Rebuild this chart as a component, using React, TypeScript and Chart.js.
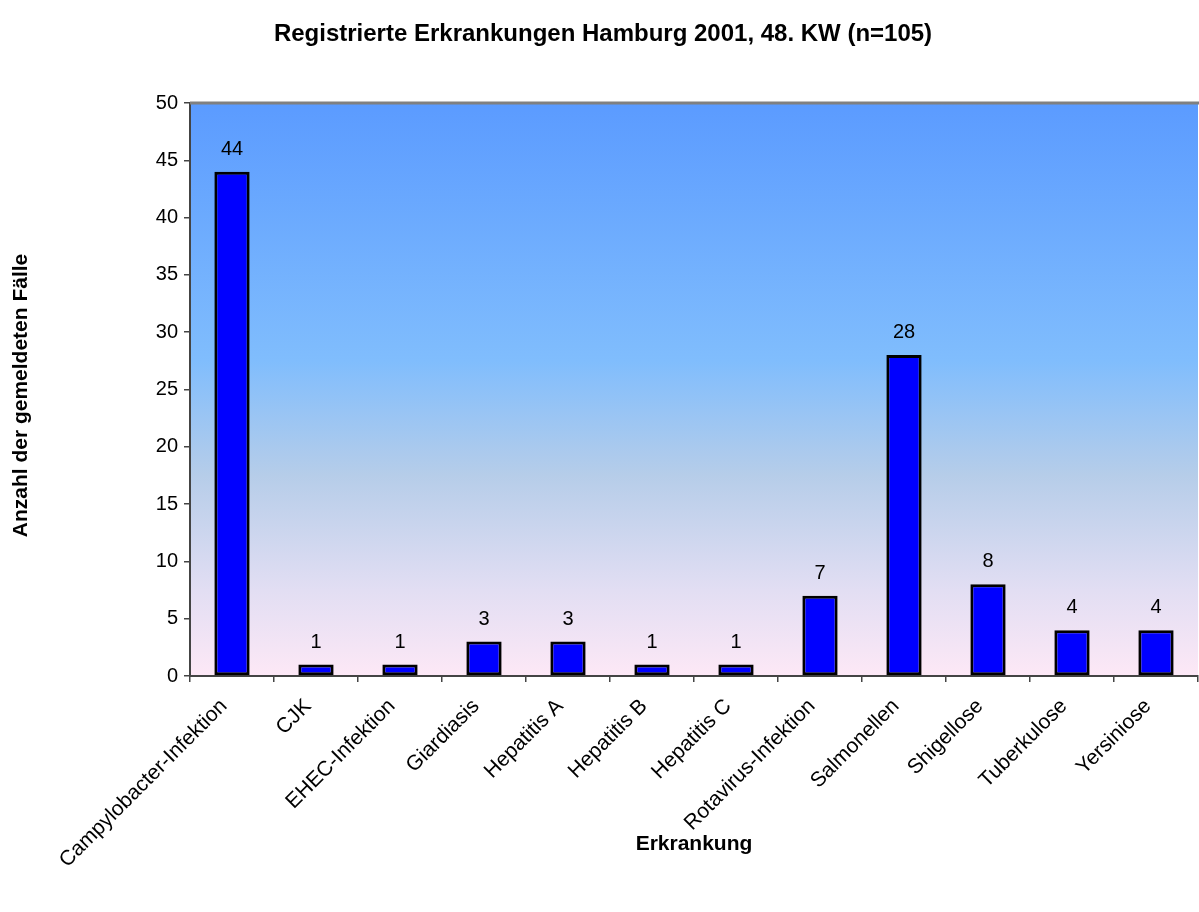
import React, { useEffect, useRef } from "react";
import { Chart, registerables } from "chart.js";

Chart.register(...registerables);

const categories = [
  "Campylobacter-Infektion",
  "CJK",
  "EHEC-Infektion",
  "Giardiasis",
  "Hepatitis A",
  "Hepatitis B",
  "Hepatitis C",
  "Rotavirus-Infektion",
  "Salmonellen",
  "Shigellose",
  "Tuberkulose",
  "Yersiniose",
];
const cases = [44, 1, 1, 3, 3, 1, 1, 7, 28, 8, 4, 4];

const titleText = "Registrierte Erkrankungen Hamburg 2001, 48. KW (n=105)";
const xTitle = "Erkrankung";
const yTitle = "Anzahl der gemeldeten Fälle";

const FONT = "'Liberation Sans', Arial, sans-serif";

const decorPlugin = {
  id: "decor",
  beforeDraw(chart: any) {
    const { ctx, chartArea } = chart;
    const { left, right, top, bottom } = chartArea;
    const g = ctx.createLinearGradient(0, top, 0, bottom);
    g.addColorStop(0, "#5b9bff");
    g.addColorStop(0.45, "#80bdfd");
    g.addColorStop(0.65, "#b6cde9");
    g.addColorStop(0.85, "#e2def3");
    g.addColorStop(1, "#fde8f6");
    ctx.save();
    ctx.fillStyle = g;
    ctx.fillRect(left, top, right - left, bottom - top);
    ctx.restore();
  },
  afterDraw(chart: any) {
    const { ctx, chartArea } = chart;
    const { left, right, top, bottom } = chartArea;
    ctx.save();
    // top border of plot area
    ctx.strokeStyle = "#808080";
    ctx.lineWidth = 3;
    ctx.beginPath();
    ctx.moveTo(left, top);
    ctx.lineTo(right + 2, top);
    ctx.stroke();

    ctx.fillStyle = "#000";
    ctx.textAlign = "center";
    ctx.textBaseline = "middle";
    ctx.font = `bold 24px ${FONT}`;
    ctx.fillText(titleText, 603, 34);

    ctx.font = `bold 21px ${FONT}`;
    ctx.fillText(xTitle, (left + right) / 2, 844);

    ctx.save();
    ctx.translate(21, (top + bottom) / 2 + 6);
    ctx.rotate(-Math.PI / 2);
    ctx.fillText(yTitle, 0, 0);
    ctx.restore();

    // rotated category labels
    const xScale = chart.scales.x;
    ctx.font = `21px ${FONT}`;
    ctx.textAlign = "right";
    ctx.textBaseline = "middle";
    categories.forEach((label, i) => {
      const x = xScale.getPixelForValue(i);
      ctx.save();
      ctx.translate(x - 8, bottom + 27);
      ctx.rotate(-Math.PI / 4);
      ctx.fillText(label, 0, 0);
      ctx.restore();
    });
    ctx.restore();
  },
  afterDatasetsDraw(chart: any) {
    const { ctx } = chart;
    const meta = chart.getDatasetMeta(0);
    const data = chart.data.datasets[0].data;
    ctx.save();
    ctx.fillStyle = "#000";
    ctx.font = `20px ${FONT}`;
    ctx.textAlign = "center";
    ctx.textBaseline = "alphabetic";
    meta.data.forEach((bar: any, i: number) => {
      ctx.fillText(String(data[i]), bar.x, bar.y - 17);
    });
    ctx.restore();
  },
};

export default function App() {
  const ref = useRef<HTMLCanvasElement>(null);

  useEffect(() => {
    document.body.style.margin = "0";
    const chart = new Chart(ref.current!, {
      type: "bar",
      data: {
        labels: categories,
        datasets: [
          {
            data: cases,
            backgroundColor: "#0000ff",
            borderColor: "#000",
            borderWidth: 3,
            borderSkipped: false,
            barPercentage: 0.42,
            categoryPercentage: 1,
          },
        ],
      },
      options: {
        animation: false,
        responsive: false,
        layout: { padding: { top: 103, right: 1, left: 0, bottom: 0 } },
        plugins: {
          legend: { display: false },
          tooltip: { enabled: false },
          title: { display: false },
        },
        scales: {
          x: {
            afterFit(scale: any) {
              scale.height = 236;
            },
            grid: {
              offset: true,
              drawOnChartArea: false,
              drawTicks: true,
              tickLength: 6,
              color: "#444",
              lineWidth: 1.5,
            },
            border: { color: "#444", width: 2 },
            ticks: {
              display: false,
            },
          },
          y: {
            min: 0,
            max: 50,
            afterFit(scale: any) {
              scale.width = 190;
            },
            grid: {
              drawOnChartArea: false,
              drawTicks: true,
              tickLength: 6,
              color: "#444",
              lineWidth: 1.5,
            },
            border: { color: "#444", width: 2 },
            ticks: {
              stepSize: 5,
              color: "#000",
              font: { family: FONT, size: 20 },
              padding: 6,
            },
          },
        },
      },
      plugins: [decorPlugin],
    });
    return () => chart.destroy();
  }, []);

  return (
    <div style={{ position: "absolute", left: 0, top: 0, width: 1199, height: 912 }}>
      <canvas ref={ref} width={1199} height={912} />
    </div>
  );
}
